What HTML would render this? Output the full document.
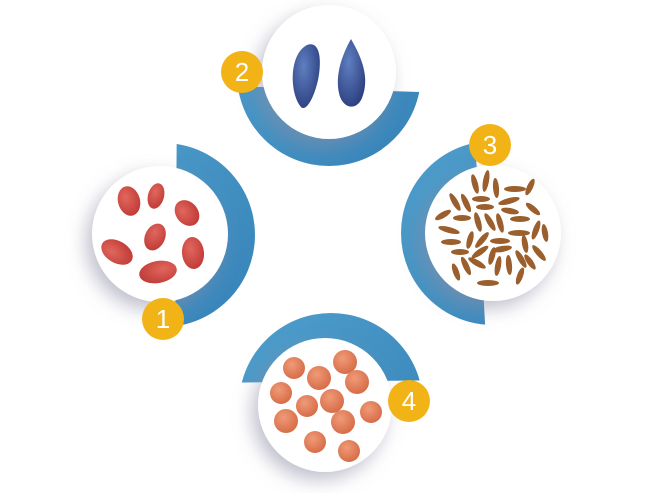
<!DOCTYPE html>
<html><head><meta charset="utf-8"><style>
html,body{margin:0;padding:0;background:#fff;width:650px;height:493px;overflow:hidden}
svg{display:block}
text{font-family:"Liberation Sans",sans-serif;fill:#fff;font-size:26px;text-anchor:middle}
</style></head><body>
<svg width="650" height="493" viewBox="0 0 650 493">
<defs>
<linearGradient id="bl" x1="0" y1="0" x2="1" y2="1"><stop offset="0" stop-color="#4f9fcc"/><stop offset="1" stop-color="#3682b8"/></linearGradient>
<filter id="sh" x="-40%" y="-40%" width="180%" height="180%"><feDropShadow dx="-6" dy="8" stdDeviation="9" flood-color="#8c8ca6" flood-opacity="0.55"/></filter>
<clipPath id="c1"><polygon points="177,100 300,100 300,360 175,360"/></clipPath>
<clipPath id="c2"><polygon points="200,85 450,93 450,200 200,200"/></clipPath>
<clipPath id="c3"><polygon points="360,100 473,100 487,360 360,360"/></clipPath>
<clipPath id="c4"><polygon points="200,280 460,280 460,380 200,383"/></clipPath>
<radialGradient id="rs" cx="0.4" cy="0.35" r="0.7"><stop offset="0" stop-color="#e0675e"/><stop offset="1" stop-color="#c03a36"/></radialGradient>
<radialGradient id="os" cx="0.4" cy="0.35" r="0.7"><stop offset="0" stop-color="#f09a78"/><stop offset="1" stop-color="#d56a45"/></radialGradient>
<radialGradient id="bs" cx="0.4" cy="0.35" r="0.7"><stop offset="0" stop-color="#5f7fc0"/><stop offset="1" stop-color="#2c3f80"/></radialGradient>
</defs>

<circle cx="163" cy="235" r="92" fill="url(#bl)" clip-path="url(#c1)"/>
<circle cx="329" cy="74" r="92" fill="url(#bl)" clip-path="url(#c2)"/>
<circle cx="493" cy="233" r="92" fill="url(#bl)" clip-path="url(#c3)"/>
<circle cx="331" cy="405" r="92" fill="url(#bl)" clip-path="url(#c4)"/>

<circle cx="160" cy="234" r="68" fill="#fff" filter="url(#sh)"/>
<circle cx="329" cy="72" r="67" fill="#fff" filter="url(#sh)"/>
<circle cx="493" cy="233" r="68" fill="#fff" filter="url(#sh)"/>
<circle cx="325" cy="405" r="67" fill="#fff" filter="url(#sh)"/>

<g fill="url(#rs)">
<ellipse cx="129" cy="201" rx="11" ry="15" transform="rotate(-15 129 201)"/>
<ellipse cx="156" cy="196" rx="8" ry="13" transform="rotate(15 156 196)"/>
<ellipse cx="187" cy="213" rx="11" ry="14" transform="rotate(-40 187 213)"/>
<ellipse cx="155" cy="237" rx="10" ry="14" transform="rotate(25 155 237)"/>
<ellipse cx="117" cy="252" rx="11" ry="17" transform="rotate(-60 117 252)"/>
<ellipse cx="193" cy="253" rx="11" ry="16" transform="rotate(-5 193 253)"/>
<ellipse cx="158" cy="272" rx="11" ry="19" transform="rotate(80 158 272)"/>
</g>
<g fill="url(#bs)">
<path d="M307,45 C320,40 322,60 318,80 C314,98 306,112 301,107 C290,95 288,55 307,45Z"/>
<path d="M351,39 C362,58 370,78 362,98 C356,112 342,108 339,93 C335,75 342,55 351,39Z"/>
</g>
<g fill="#9a5f2c">
<ellipse cx="475" cy="184" rx="3" ry="10" transform="rotate(-15 475 184)"/>
<ellipse cx="486" cy="181" rx="3" ry="11" transform="rotate(10 486 181)"/>
<ellipse cx="496" cy="188" rx="3" ry="10" transform="rotate(-5 496 188)"/>
<ellipse cx="515" cy="189" rx="11" ry="3"/>
<ellipse cx="530" cy="187" rx="3" ry="9" transform="rotate(25 530 187)"/>
<ellipse cx="455" cy="202" rx="3" ry="10" transform="rotate(-30 455 202)"/>
<ellipse cx="466" cy="203" rx="3" ry="10" transform="rotate(-25 466 203)"/>
<ellipse cx="481" cy="199" rx="9" ry="3"/>
<ellipse cx="509" cy="201" rx="11" ry="3" transform="rotate(-15 509 201)"/>
<ellipse cx="485" cy="207" rx="9" ry="3"/>
<ellipse cx="510" cy="211" rx="9" ry="3" transform="rotate(10 510 211)"/>
<ellipse cx="533" cy="209" rx="3" ry="9" transform="rotate(-50 533 209)"/>
<ellipse cx="443" cy="215" rx="3" ry="9" transform="rotate(60 443 215)"/>
<ellipse cx="462" cy="218" rx="9" ry="3"/>
<ellipse cx="478" cy="222" rx="3" ry="10" transform="rotate(-15 478 222)"/>
<ellipse cx="490" cy="222" rx="3" ry="10" transform="rotate(-30 490 222)"/>
<ellipse cx="500" cy="223" rx="3" ry="10" transform="rotate(-15 500 223)"/>
<ellipse cx="520" cy="219" rx="10" ry="3"/>
<ellipse cx="449" cy="230" rx="11" ry="3" transform="rotate(15 449 230)"/>
<ellipse cx="519" cy="233" rx="11" ry="3"/>
<ellipse cx="536" cy="230" rx="3" ry="10" transform="rotate(20 536 230)"/>
<ellipse cx="545" cy="233" rx="3" ry="9" transform="rotate(-10 545 233)"/>
<ellipse cx="451" cy="242" rx="10" ry="3"/>
<ellipse cx="470" cy="240" rx="3" ry="9" transform="rotate(15 470 240)"/>
<ellipse cx="482" cy="240" rx="3" ry="10" transform="rotate(40 482 240)"/>
<ellipse cx="500" cy="241" rx="10" ry="3"/>
<ellipse cx="525" cy="244" rx="3" ry="9" transform="rotate(-10 525 244)"/>
<ellipse cx="460" cy="252" rx="9" ry="3"/>
<ellipse cx="480" cy="252" rx="10" ry="3" transform="rotate(-35 480 252)"/>
<ellipse cx="502" cy="249" rx="10" ry="3" transform="rotate(-10 502 249)"/>
<ellipse cx="539" cy="253" rx="3" ry="10" transform="rotate(-40 539 253)"/>
<ellipse cx="492" cy="256" rx="3" ry="9" transform="rotate(15 492 256)"/>
<ellipse cx="466" cy="266" rx="3" ry="10" transform="rotate(-25 466 266)"/>
<ellipse cx="477" cy="263" rx="10" ry="3" transform="rotate(30 477 263)"/>
<ellipse cx="498" cy="266" rx="3" ry="10" transform="rotate(10 498 266)"/>
<ellipse cx="509" cy="265" rx="3" ry="10" transform="rotate(-5 509 265)"/>
<ellipse cx="521" cy="259" rx="3" ry="10" transform="rotate(-30 521 259)"/>
<ellipse cx="530" cy="262" rx="3" ry="9" transform="rotate(-35 530 262)"/>
<ellipse cx="456" cy="272" rx="3" ry="9" transform="rotate(-20 456 272)"/>
<ellipse cx="488" cy="283" rx="11" ry="3"/>
<ellipse cx="520" cy="276" rx="3" ry="9" transform="rotate(20 520 276)"/>
</g>
<g fill="url(#os)">
<circle cx="294" cy="368" r="11"/>
<circle cx="319" cy="378" r="12"/>
<circle cx="345" cy="362" r="12"/>
<circle cx="357" cy="382" r="12"/>
<circle cx="281" cy="393" r="11"/>
<circle cx="307" cy="406" r="11"/>
<circle cx="332" cy="401" r="12"/>
<circle cx="371" cy="412" r="11"/>
<circle cx="286" cy="421" r="12"/>
<circle cx="343" cy="422" r="12"/>
<circle cx="315" cy="442" r="11"/>
<circle cx="349" cy="451" r="11"/>
</g>

<g fill="#f2b316">
<circle cx="163" cy="319" r="21"/>
<circle cx="242" cy="72" r="21"/>
<circle cx="490" cy="145" r="21"/>
<circle cx="409" cy="401" r="21"/>
</g>
<text x="163" y="328">1</text>
<text x="242" y="81">2</text>
<text x="490" y="154">3</text>
<text x="409" y="410">4</text>
</svg>
</body></html>
